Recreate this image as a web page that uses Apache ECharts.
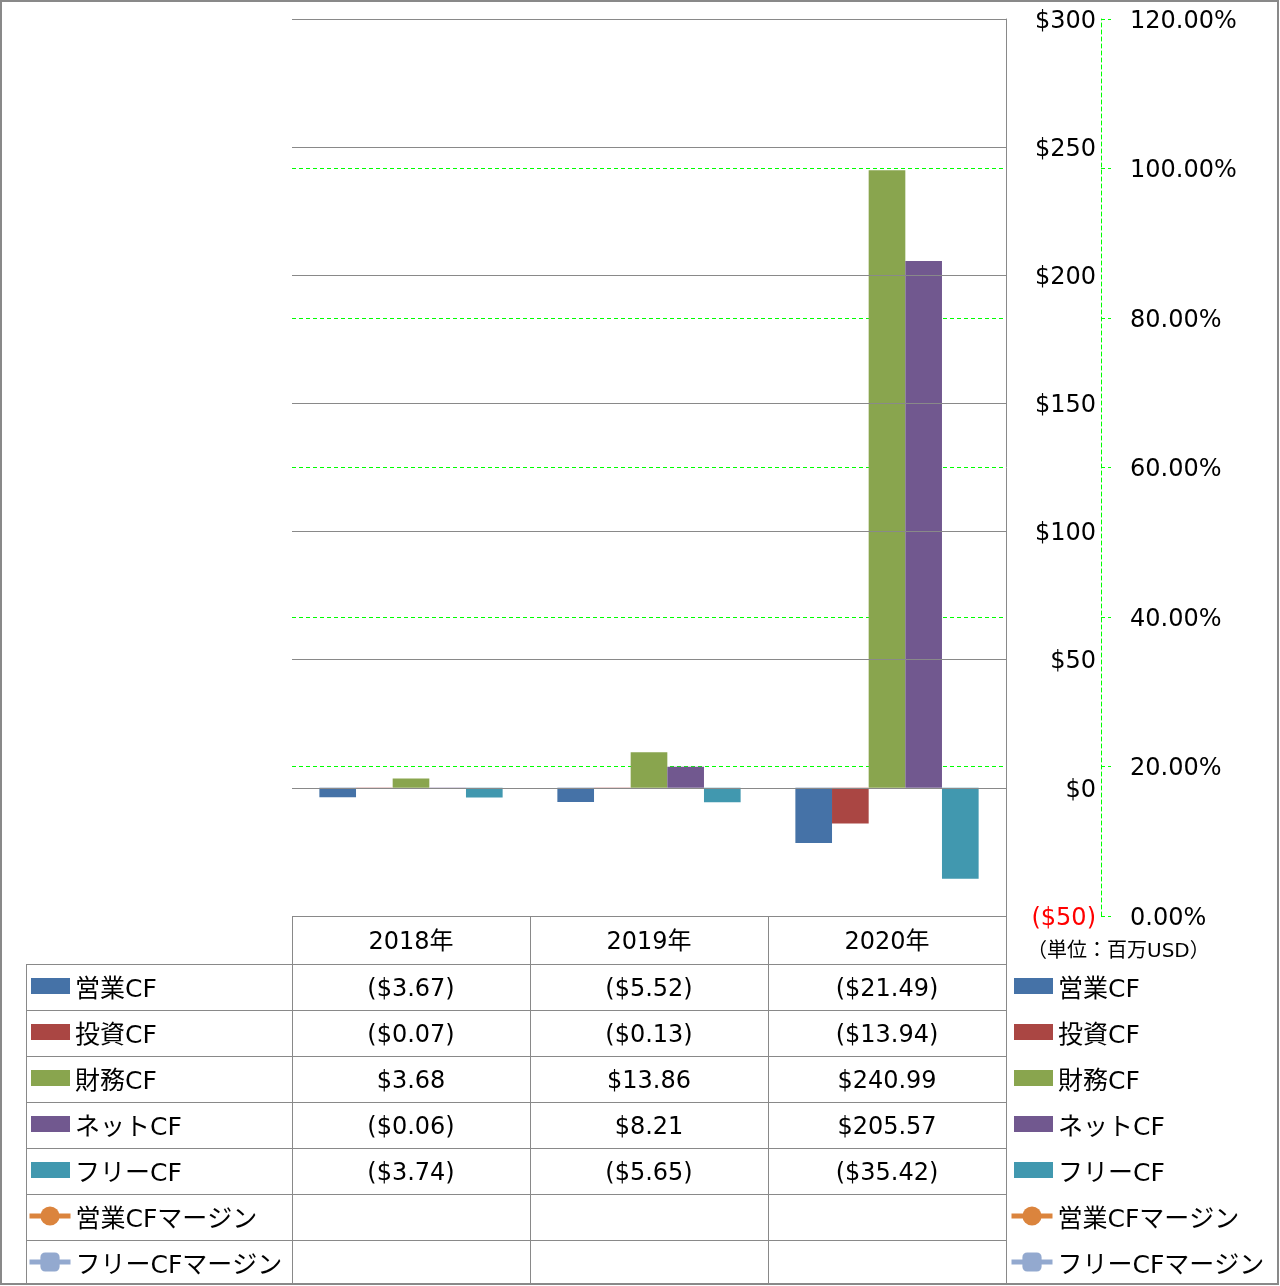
<!DOCTYPE html>
<html>
<head>
<meta charset="utf-8">
<script src="https://cdn.jsdelivr.net/npm/echarts@6/dist/echarts.min.js"></script>
<style>
html,body{margin:0;padding:0;background:#fff;}
#chart{width:1280px;height:1286px;}
</style>
</head>
<body>
<div id="chart"></div>
<script>
// ---- data ----
const years = ['2018年', '2019年', '2020年'];
const seriesNames = ['営業CF', '投資CF', '財務CF', 'ネットCF', 'フリーCF'];
const marginNames = ['営業CFマージン', 'フリーCFマージン'];
const opCF = [-3.67, -5.52, -21.49];
const invCF = [-0.07, -0.13, -13.94];
const finCF = [3.68, 13.86, 240.99];
const netCF = [-0.06, 8.21, 205.57];
const freeCF = [-3.74, -5.65, -35.42];
const opMargin = [null, null, null];
const freeMargin = [null, null, null];
const unitLabel = '（単位：百万USD）';

// ---- style ----
const FONT = '"DejaVu Sans", "Noto Sans CJK JP", sans-serif';
const barColors = ['#4572A7', '#AA4643', '#89A54E', '#71588F', '#4198AF'];
const lineColors = ['#DB843D', '#93A9CF'];
const GRAY = '#898989';
const GREEN = '#00FF00';

function money(v) {
  if (v === null || v === undefined) return '';
  return v < 0 ? '($' + Math.abs(v).toFixed(2) + ')' : '$' + v.toFixed(2);
}

// table geometry
const colX = [292, 530, 768, 1006];
const rowY = [964, 1010, 1056, 1102, 1148, 1194, 1240, 1284];
const tableLeft = 26;

const graphics = [];
function hline(y, x1, x2) {
  graphics.push({type: 'line', silent: true, shape: {x1: x1, y1: y + 0.5, x2: x2, y2: y + 0.5}, style: {stroke: GRAY, lineWidth: 1}});
}
function vline(x, y1, y2) {
  graphics.push({type: 'line', silent: true, shape: {x1: x + 0.5, y1: y1, x2: x + 0.5, y2: y2}, style: {stroke: GRAY, lineWidth: 1}});
}
hline(916, colX[0], colX[3]);
rowY.forEach(function (y) { hline(y, tableLeft, colX[3]); });
vline(tableLeft, rowY[0], rowY[rowY.length - 1]);
colX.forEach(function (x) { vline(x, 916, rowY[rowY.length - 1]); });

const tableRows = [opCF, invCF, finCF, netCF, freeCF, opMargin, freeMargin];
tableRows.forEach(function (arr, i) {
  const cy = (rowY[i] + rowY[i + 1]) / 2;
  arr.forEach(function (v, j) {
    const cx = (colX[j] + colX[j + 1]) / 2;
    graphics.push({
      type: 'text', silent: true,
      style: {text: money(v), x: cx, y: cy + 3, textAlign: 'center', textVerticalAlign: 'middle', align: 'center', verticalAlign: 'middle', font: '24px ' + FONT, fill: '#000'}
    });
  });
});
graphics.push({
  type: 'text', silent: true,
  style: {text: unitLabel, x: 1027, y: 952, textAlign: 'left', textVerticalAlign: 'middle', align: 'left', verticalAlign: 'middle', font: '20px ' + FONT, fill: '#000'}
});
graphics.push({type: 'rect', silent: true, shape: {x: 1, y: 1, width: 1277, height: 1283}, style: {fill: null, stroke: GRAY, lineWidth: 2}});

const barData = [opCF, invCF, finCF, netCF, freeCF];
const series = barData.map(function (d, i) {
  return {
    name: seriesNames[i], type: 'bar', data: d, yAxisIndex: 0,
    barGap: '0%', barCategoryGap: '23%',
    itemStyle: {color: barColors[i]}
  };
});
[opMargin, freeMargin].forEach(function (d, i) {
  series.push({
    name: marginNames[i], type: 'line', data: d, yAxisIndex: 1,
    symbol: i === 0 ? 'circle' : 'roundRect', symbolSize: 19,
    lineStyle: {color: lineColors[i], width: 5},
    itemStyle: {color: lineColors[i]}
  });
});

// rich spacer token (taller line) pushes the label text slightly lower relative to the icon
const legendText = {
  fontSize: 25, fontFamily: FONT, color: '#000', lineHeight: 34,
  rich: {
    s: {fontSize: 25, fontFamily: FONT, lineHeight: 34, width: 0},
    t: {fontSize: 25, fontFamily: FONT, color: '#000', lineHeight: 30, verticalAlign: 'bottom'}
  }
};
function legendFmt(name) { return '{s| }{t|' + name + '}'; }
function barLegend(left) {
  return {orient: 'vertical', left: left, top: 969, padding: 0, itemGap: 12, itemWidth: 39, itemHeight: 16,
    icon: 'rect', selectedMode: false, data: seriesNames, textStyle: legendText, formatter: legendFmt};
}
function lineLegend(left) {
  return {orient: 'vertical', left: left, top: 1199, padding: 0, itemGap: 12, itemWidth: 41, itemHeight: 24,
    selectedMode: false, data: marginNames, textStyle: legendText, formatter: legendFmt,
    lineStyle: {width: 5}};
}

const option = {
  animation: false,
  backgroundColor: '#fff',
  textStyle: {fontFamily: FONT},
  grid: {left: 292, right: 274, top: 19, bottom: 370, containLabel: false},
  legend: [barLegend(31), lineLegend(27), barLegend(1014), lineLegend(1009)],
  xAxis: {
    type: 'category', data: years,
    axisLine: {show: false, onZero: false}, axisTick: {show: false},
    axisLabel: {fontSize: 24, fontFamily: FONT, color: '#000', margin: 12, lineHeight: 30},
    splitLine: {show: false}
  },
  yAxis: [
    {
      type: 'value', min: -50, max: 300, interval: 50, position: 'right', z: 3,
      axisLine: {show: true, lineStyle: {color: GRAY, width: 1}},
      axisTick: {show: false},
      splitLine: {show: true, lineStyle: {color: GRAY, width: 1}},
      axisLabel: {
        align: 'right', margin: 90, fontSize: 24, fontFamily: FONT, color: '#000', padding: [5, 0, 0, 0],
        formatter: function (v) { return v < 0 ? '{neg|($' + Math.abs(v) + ')}' : '$' + v; },
        rich: {neg: {color: '#FF0000', fontSize: 24, fontFamily: FONT}}
      }
    },
    {
      type: 'value', min: 0, max: 1.2, interval: 0.2, position: 'right', offset: 95, z: 1,
      axisLine: {show: true, lineStyle: {color: GREEN, width: 1, type: [4, 3]}},
      axisTick: {show: true, length: 10, lineStyle: {color: GREEN, width: 1, type: [4, 3]}},
      splitLine: {show: true, lineStyle: {color: ['rgba(0,0,0,0)', GREEN, GREEN, GREEN, GREEN, GREEN, 'rgba(0,0,0,0)'], width: 1, type: [4, 3]}},
      axisLabel: {
        margin: 29, fontSize: 24, fontFamily: FONT, color: '#000',
        formatter: function (v) { return '{p|' + (v * 100).toFixed(2) + '%}'; },
        rich: {p: {fontSize: 24, fontFamily: FONT, color: '#000', padding: [5, 0, 0, 0]}}
      }
    }
  ],
  series: series,
  graphic: graphics
};

const chart = echarts.init(document.getElementById('chart'), null, {renderer: 'canvas'});
chart.setOption(option);
</script>
</body>
</html>
